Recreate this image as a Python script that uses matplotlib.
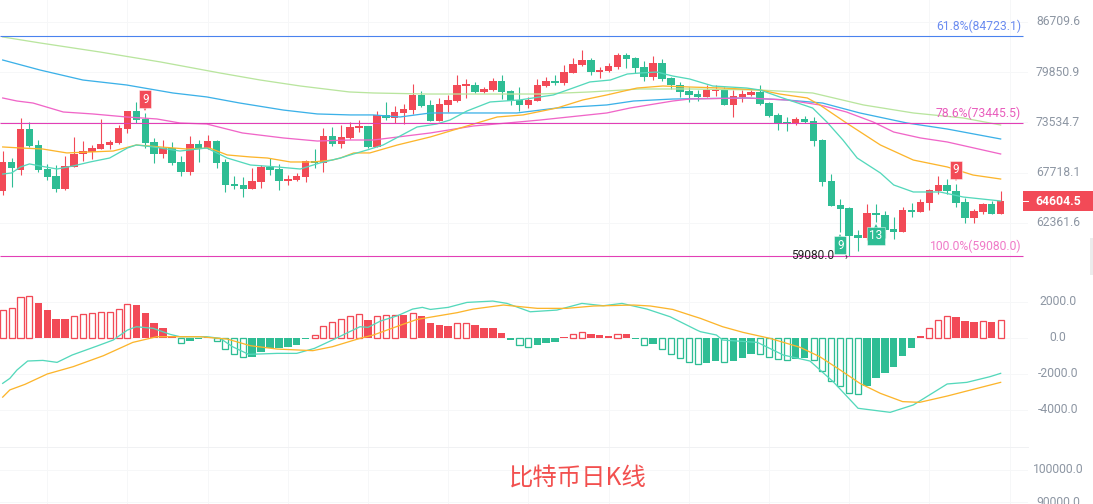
import matplotlib
matplotlib.use("Agg")
import matplotlib.pyplot as plt
from matplotlib.patches import Rectangle
from matplotlib.ticker import NullLocator
from matplotlib.transforms import ScaledTranslation

plt.rcParams['font.family'] = ['Roboto', 'DejaVu Sans']

######################################################################
# DATA

opens = [65730, 68930, 68000, 72730, 70850, 68110, 67330, 65940, 68370, 69850,
         70040, 70380, 70850, 71120, 72770, 74910, 73940, 71200, 69850, 70540,
         68900, 67810, 70970, 70500, 71310, 68900, 66450, 66350, 65940, 66670,
         68340, 68110, 66780, 66890, 67220, 69010, 68790, 71900, 70970, 71670,
         72850, 73090, 70620, 74430, 74060, 74670, 75030, 76910, 75660, 73690,
         75660, 76150, 78050, 78180, 77290, 77540, 78690, 77410, 76280, 75660,
         76150, 78050, 78690, 78440, 79730, 80790, 81450, 79860, 79990, 80520,
         82120, 81720, 80520, 79210, 81050, 79080, 78180, 77410, 77030, 76690,
         77410, 77630, 75690, 76690, 76940, 77290, 75900, 74430, 73570, 73370,
         73900, 73660, 71430, 66780, 64210, 63890, 61120, 60820, 63340, 63160,
         61720, 61420, 63650, 63500, 64450, 65700, 66350, 65700, 64520, 62850,
         63470, 64310, 63260]
closes = [68930, 68260, 72730, 70770, 68000, 67220, 65940, 68450, 69850, 70150,
          70500, 70970, 71230, 72850, 74910, 73810, 71080, 69850, 70500, 68790,
          67810, 70970, 70500, 71310, 68790, 66350, 66240, 65940, 66780, 68340,
          68000, 66780, 67000, 67330, 69010, 68790, 71900, 70970, 71790, 72970,
          73090, 70620, 74430, 74060, 74790, 75160, 76910, 75530, 73690, 75780,
          76280, 78180, 78310, 77290, 77670, 78690, 77290, 76150, 75660, 76280,
          78180, 78690, 78440, 79860, 80920, 81450, 79860, 80120, 80660, 82120,
          81590, 80390, 79210, 81050, 78950, 78180, 77290, 76910, 76690, 77540,
          77540, 75690, 76780, 77030, 77290, 75780, 74300, 73450, 73490, 73940,
          73610, 71310, 66710, 64100, 63820, 61020, 60850, 63370, 63130, 61620,
          61450, 63680, 63500, 64520, 65800, 66350, 65700, 64420, 62850, 63570,
          64310, 63260, 64604.5]
highs = [70190, 69320, 74100, 73540, 71430, 68640, 68560, 69580, 71820, 71350,
         70850, 73940, 71430, 73210, 74910, 76030, 74700, 71670, 71430, 71160,
         69580, 71900, 71430, 72020, 71430, 69240, 67330, 67190, 68190, 68560,
         69320, 68680, 67440, 67630, 69120, 70380, 72810, 72970, 73210, 73610,
         73810, 73150, 74910, 76030, 75530, 75780, 78310, 77410, 76280, 76530,
         76910, 79470, 78950, 78570, 77920, 79080, 79470, 77540, 77920, 76660,
         78950, 79210, 79470, 80790, 81720, 82800, 81720, 80520, 81050, 82390,
         82390, 81860, 81320, 81990, 81590, 79150, 78570, 77960, 77540, 78180,
         78180, 77880, 77540, 77540, 77540, 78140, 76030, 74630, 74220, 74180,
         74300, 74140, 71490, 67550, 64840, 64030, 61620, 64310, 64280, 63570,
         62920, 64030, 64390, 64810, 65860, 67330, 67040, 66450, 64915, 63750,
         64450, 64660, 65700]
lows = [65270, 66160, 67440, 70650, 67810, 66890, 65620, 65800, 68300, 69010,
        69200, 70380, 70350, 70970, 72290, 73420, 70540, 68790, 69390, 68560,
        67330, 67440, 68930, 70380, 68190, 65590, 65940, 65050, 65880, 66020,
        67440, 65770, 66320, 66810, 66670, 68260, 67780, 70770, 70500, 71510,
        72410, 70470, 70620, 73810, 73450, 73330, 74550, 75400, 73690, 73690,
        74790, 76030, 76530, 77160, 77160, 77410, 76400, 75660, 74910, 75280,
        76150, 77920, 78180, 78180, 79730, 80660, 79470, 79080, 79860, 80260,
        80390, 79730, 78690, 78820, 78690, 77670, 76660, 76070, 76150, 76610,
        76780, 75620, 74220, 76070, 76780, 75660, 74220, 72610, 72490, 73210,
        73490, 70730, 66240, 64100, 61420, 59080, 59540, 60620, 62470, 60850,
        60750, 61420, 62920, 63500, 63680, 65370, 65370, 63960, 62370, 62300,
        63230, 63260, 63260]

ma_teal_idx = [0, 1, 2, 3, 4.2, 6.1, 7.9, 9.8, 12, 14, 15, 16.9, 19.9, 22.9, 25.2, 27.8, 30.8, 33.4,
               35.6, 37.9, 39, 40.9, 42.7, 46.5, 48.7, 50.2, 52.1, 54.7, 58, 61.8, 64, 65.9, 68.2,
               70.1, 71.5, 73.4, 75.2, 77.1, 79.7, 83.5, 85, 87.2, 90.9, 92.5, 94.3, 95.9, 98.5,
               100, 102.2, 105.2, 107.8, 112]
ma_teal = [67550, 67670, 68340, 68680, 68450, 68110, 68450, 68900, 69350, 70500, 70850, 70620, 70150,
           70500, 69350, 68560, 68340, 68110, 68790, 69350, 69700, 70270, 70850, 72970, 73330, 73810,
           74910, 76030, 76280, 76910, 77790, 78570, 78820, 79600, 79730, 79860, 79340, 78950, 78050,
           77790, 77540, 76660, 75280, 73570, 71430, 69350, 67670, 66350, 65590, 65590, 65050, 64630]

ma_orange_idx = [0, 2, 4.5, 7.2, 9.8, 12.4, 15, 17.7, 20.7, 23.2, 25.2, 27.8, 29.7, 32.3, 34.8, 37,
                 37.9, 39.4, 41.2, 44.3, 48, 52.1, 55.5, 58.4, 62.2, 65.1, 67.8, 71.2, 74.1, 77.1,
                 80.8, 85, 87.2, 90.3, 91.7, 94.7, 98.5, 102.2, 106, 108.9, 112]
ma_orange = [70620, 70500, 70380, 69930, 70040, 70150, 70850, 70620, 70380, 70500, 69700, 69470, 69350,
             68900, 68900, 69120, 69350, 69930, 69930, 70850, 71790, 73090, 74180, 74430, 75280, 76280,
             76910, 77790, 78050, 77920, 77790, 77540, 77030, 76530, 75660, 73450, 70850, 69120, 68340,
             67440, 67000]

ma_pink_idx = [0, 1.6, 3.4, 6.8, 10.1, 13.9, 17.3, 19.9, 22.9, 26.9, 31.5, 35.3, 39, 41.6, 48, 52.8,
               56.6, 60.3, 67.8, 70.4, 75.2, 77.1, 83.5, 88, 91.7, 94.7, 97.7, 100, 103, 106, 112]
ma_pink = [76530, 76150, 75900, 74790, 74550, 74180, 73940, 73450, 73330, 72260, 71670, 71310, 71430,
           71430, 72260, 73090, 73450, 73810, 74670, 75280, 76150, 76400, 76530, 76280, 75660, 74790,
           73570, 72370, 71670, 71200, 69810]

ma_blue_idx = [0, 4.2, 9, 13.9, 19.1, 22.9, 26.6, 31.5, 35.3, 39, 41.6, 44.6, 48, 52.8, 57.7, 62.2,
               67.8, 70.8, 75.2, 83.5, 88, 92, 96.2, 101.5, 106, 112]
ma_blue = [81450, 80120, 78820, 78180, 77160, 76660, 75900, 75030, 74550, 74430, 74430, 74180, 74670,
           74670, 74670, 75280, 75660, 76150, 76400, 76530, 76280, 75900, 74670, 73450, 72730, 71550]

ma_green_idx = [0, 4.2, 10.9, 17.7, 24.4, 28.9, 33.4, 38.9, 41.6, 47.6, 52.8, 60.3, 65.9, 71.5, 77.1,
                85, 90.9, 96.6, 102.2, 107.8, 112]
ma_green = [84590, 83760, 82530, 81190, 79730, 78820, 78050, 77290, 77160, 77030, 77030, 77030, 77290,
            77670, 77670, 77540, 77160, 75660, 74670, 74060, 73210]

macd_hist = [1535, 1630, 2240, 2290, 1920, 1535, 1035, 1035, 1180, 1295,
             1350, 1400, 1410, 1570, 1850, 1810, 1370, 815, 535, 100,
             -315, -165, -90, 60, -200, -650, -925, -1090, -1055, -780,
             -555, -550, -535, -405, -75, 130, 630, 850, 1015, 1185,
             1295, 980, 1185, 1240, 1260, 1250, 1350, 1200, 815, 700,
             650, 795, 800, 700, 535, 530, 260, -110, -390, -535,
             -390, -280, -220, 55, 185, 330, 205, 150, 95, 185,
             180, -55, -385, -375, -650, -925, -1150, -1370, -1440, -1405,
             -1295, -1370, -1275, -1110, -905, -925, -1090, -1200, -1260, -1165,
             -1130, -1260, -1870, -2420, -2700, -3090, -3100, -2660, -2220, -1940,
             -1610, -1000, -555, 75, 520, 980, 1185, 1130, 925, 870,
             925, 870, 980]

dif_idx = [0, 0.8, 1.6, 2.8, 4.5, 6.1, 7.8, 10.6, 12.4, 14, 15, 16.9, 18.8, 19.9, 22.9, 24.4, 25.8,
           27.6, 30.8, 33, 35, 37, 40.1, 41, 42.4, 44.3, 46, 47.1, 48, 50, 52.1, 55, 56.6, 59.2,
           62.2, 65, 67.4, 69.5, 72.3, 74.9, 77.9, 78.3, 80.1, 80.8, 84.7, 87.6, 90.6, 93.2, 96, 99.6,
           102.2, 106, 108.2, 110.8, 112]
dif = [-2535, -2260, -1795, -1295, -1260, -1370, -960, -460, -130, 425, 610, 520, 185, 55, 55, -35,
       -500, -925, -870, -870, -590, -130, 610, 575, 925, 1220, 1590, 1685, 1570, 1685, 1960, 2035,
       1905, 1440, 1535, 1905, 1775, 1905, 1590, 1165, 425, 335, 150, -130, -260, -960, -1295, -2440,
       -3920, -4145, -3735, -2570, -2480, -2165, -1980]

dea_idx = [0, 0.8, 2.5, 5, 7.9, 11.3, 14.6, 17.3, 19.1, 22.1, 25.2, 27.8, 30.8, 34.8, 37, 40.1, 41.6,
           44.9, 46.5, 51, 52.8, 56.2, 60, 63.3, 66.3, 70.8, 72.7, 75.2, 77.5, 78.3, 80.8, 83.1,
           86.1, 89.5, 91.7, 94, 96.2, 98.5, 101, 102.9, 106, 108.2, 112]
dea = [-3300, -2900, -2590, -2015, -1610, -1000, -260, 55, 55, 55, -75, -445, -630, -720, -500, -35,
       150, 740, 1015, 1390, 1590, 1815, 1630, 1630, 1760, 1815, 1760, 1570, 1200, 1075, 610, 295,
       -35, -535, -1055, -1795, -2535, -3090, -3550, -3590, -3240, -2960, -2480]

fib_levels = [84723.1, 73445.5, 59080.0]
fib_labels = ['61.8%(84723.1)', '78.6%(73445.5)', '100.0%(59080.0)']

price_ticks = [86709.6, 79850.9, 73534.7, 67718.1, 62361.6]
macd_ticks = [2000.0, 0.0, -2000.0, -4000.0]
volume_ticks = [100000.0, 90000.0]
last_price = 64604.5

######################################################################
# STYLE

W, H = 1093, 504
RED = '#f24a57'
GREEN = '#2ebd94'
GRID = '#f6f7f8'
LABEL = '#8d96a3'
PX = 0.72  # one pixel in points at dpi 100
X_MIN, X_MAX = -0.303, 115.07
count = len(closes)
xs = list(range(count))

fig = plt.figure(figsize=(W / 100, H / 100), dpi=100)


def add_panel(top, bottom):
    ax = fig.add_axes([0, 1 - bottom / H, 1028 / W, (bottom - top) / H])
    ax.set_xlim(X_MIN, X_MAX)
    ax.set_xticks(range(5, count + 2, 9))
    ax.set_xticklabels([])
    ax.tick_params(axis='both', length=0)
    ax.yaxis.tick_right()
    ax.grid(True, color=GRID, lw=PX)
    ax.set_axisbelow(True)
    for spine in ax.spines.values():
        spine.set_visible(False)
    return ax


def set_right_ticks(ax, ticks):
    ax.set_yticks(ticks)
    ax.set_yticklabels([f'{t:.1f}' for t in ticks])
    ax.yaxis.set_minor_locator(NullLocator())
    ax.tick_params(axis='y', pad=30 * PX, labelsize=8.7, labelcolor=LABEL)
    for label in ax.get_yticklabels():
        label.set_ha('center')
        label.set_va('center')


######################################################################
# PRICE PANEL

ax_k = add_panel(0, 280)
ax_k.set_yscale('log')
ax_k.set_ylim(56769, 89879)
set_right_ticks(ax_k, price_ticks)

for i in xs:
    color = RED if closes[i] >= opens[i] else GREEN
    ax_k.vlines(i, lows[i], highs[i], color=color, lw=1.1 * PX, zorder=3)
    low_body, high_body = sorted((opens[i], closes[i]))
    ax_k.bar(i, high_body - low_body, bottom=low_body, width=0.84, color=color, lw=0, zorder=3)

ax_k.plot(ma_green_idx, ma_green, color='#b9e59e', lw=1.3 * PX, zorder=4)
ax_k.plot(ma_blue_idx, ma_blue, color='#3cb1e8', lw=1.3 * PX, zorder=4)
ax_k.plot(ma_pink_idx, ma_pink, color='#f066c8', lw=1.3 * PX, zorder=4)
ax_k.plot(ma_orange_idx, ma_orange, color='#fcb52c', lw=1.3 * PX, zorder=4)
ax_k.plot(ma_teal_idx, ma_teal, color='#54d8bb', lw=1.3 * PX, zorder=4)

fib_line_colors = ['#4a82ee', '#e23fb6', '#e23fb6']
fib_text_colors = ['#6b8cf0', '#e95cbc', '#f07ac8']
for level, text, lc, tc in zip(fib_levels, fib_labels, fib_line_colors, fib_text_colors):
    ax_k.hlines(level, X_MIN, 114.5, color=lc, lw=1.1 * PX, zorder=5)
    ax_k.annotate(text, xy=(114.3, level), xytext=(0, 3 * PX), textcoords='offset points',
                  ha='right', va='bottom', fontsize=8.7, color=tc, zorder=6)

ax_k.annotate('59080.0', xy=(93.3, 59080.0), ha='right', va='center', fontsize=8.6,
              color='#222222', zorder=6)
ax_k.annotate('\u203a', xy=(94.6, 58950.0), ha='center', va='center', fontsize=7,
              color='#222222', zorder=6)

# TD sequence marks
marks = [(16, 76400, '9', RED, 'v'), (107, 68000, '9', RED, 'v'),
         (94, 60090, '9', GREEN, '^'), (98, 61020, '13', GREEN, '^')]
for mx, my, text, color, arrow in marks:
    ax_k.text(mx, my, text, ha='center', va='center', color='white', fontsize=8.4, zorder=8,
              bbox=dict(boxstyle='square,pad=0.22', fc=color, ec='#ffffff88', lw=0.6))
    off = 8.5 * PX if arrow == '^' else -8.5 * PX
    ax_k.plot([mx], [my], marker=arrow, ms=5, color=color, mew=0, zorder=7,
              transform=ax_k.transData + ScaledTranslation(0, off / 72, fig.dpi_scale_trans))

######################################################################
# MACD PANEL

ax_m = add_panel(280, 447)
ax_m.set_ylim(-6070, 3205)
set_right_ticks(ax_m, macd_ticks)

for i in xs:
    value = macd_hist[i]
    color = RED if value >= 0 else GREEN
    growing = i == 0 or abs(value) > abs(macd_hist[i - 1])
    if growing:
        ax_m.bar(i, value, width=0.68, facecolor='white', edgecolor=color, lw=1.3 * PX, zorder=3)
    else:
        ax_m.bar(i, value, width=0.84, color=color, lw=0, zorder=3)

ax_m.plot(dif_idx, dif, color='#54d8bb', lw=1.3 * PX, zorder=4)
ax_m.plot(dea_idx, dea, color='#fcb52c', lw=1.3 * PX, zorder=4)

######################################################################
# VOLUME PANEL

ax_v = add_panel(447, 504)
ax_v.set_ylim(89400, 106970)
set_right_ticks(ax_v, volume_ticks)
fig.add_artist(plt.Line2D([0, 1028 / W], [1 - 447 / H, 1 - 447 / H], color='#f0f1f3', lw=PX))

fig.text(577.5 / W, 1 - 478 / H, '比特币日K线', ha='center', va='center', color='#f2504f',
         fontsize=17.6, family=['Noto Sans CJK SC', 'DejaVu Sans'])

######################################################################
# LAST PRICE TAG

fig.add_artist(Rectangle((1023 / W, 1 - 211 / H), 70 / W, 20 / H, transform=fig.transFigure,
                         fc=RED, ec='none'))
fig.add_artist(plt.Line2D([1023 / W, 1028 / W], [1 - 201 / H, 1 - 201 / H], color='white', lw=PX))
fig.text(1058.5 / W, 1 - 201.5 / H, f'{last_price:.1f}', ha='center', va='center', color='white',
         fontsize=8.8, fontweight='bold')
fig.add_artist(Rectangle((1090 / W, 1 - 275 / H), 3 / W, 37 / H, transform=fig.transFigure,
                         fc='#ececec', ec='none'))

fig.savefig('out.png', dpi=100)
